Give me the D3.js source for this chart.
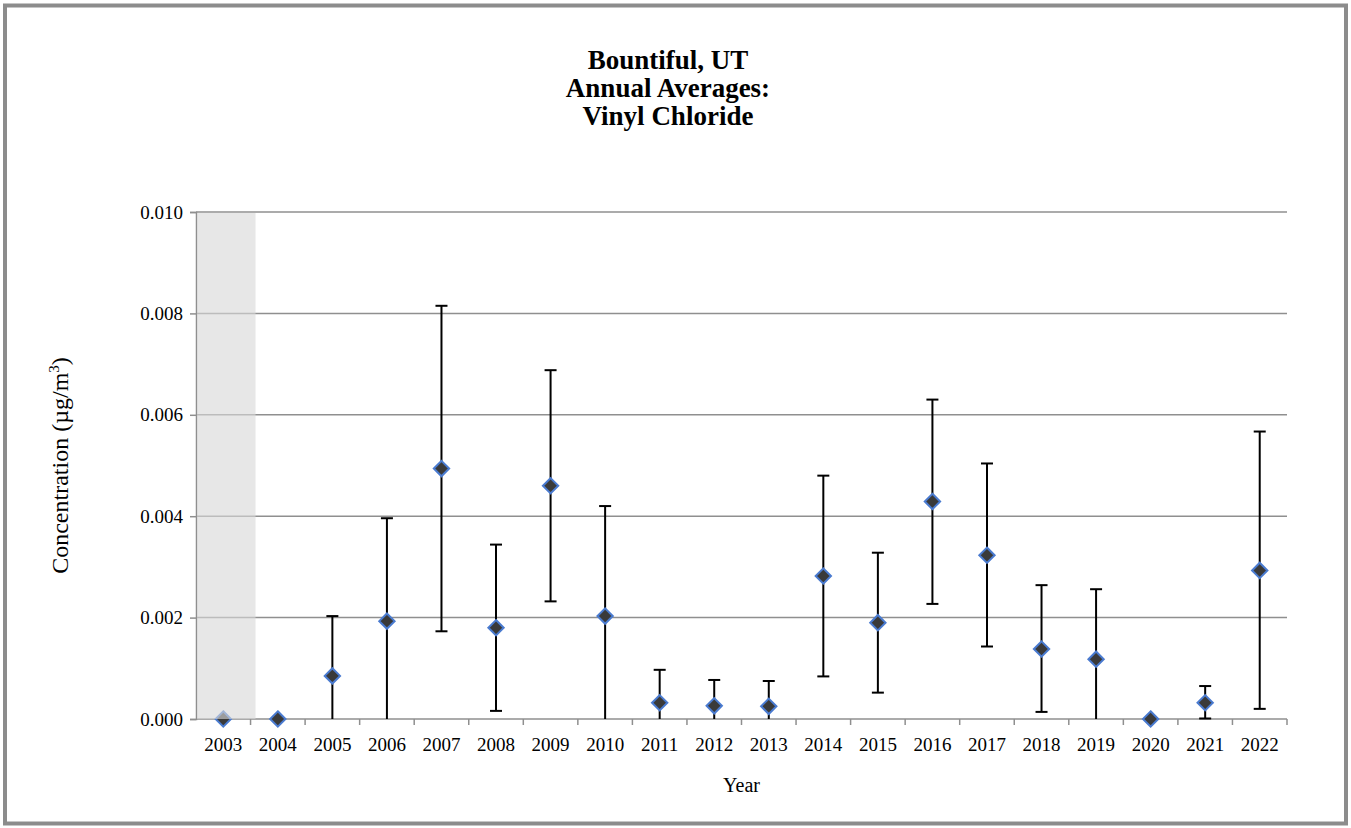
<!DOCTYPE html>
<html>
<head>
<meta charset="utf-8">
<script src="https://cdn.jsdelivr.net/npm/d3@7"></script>
<style>
  body { margin: 0; background: #fff; }
  svg text { font-family: "Liberation Serif", "Times New Roman", serif; fill: #000; }
</style>
</head>
<body>
<div id="chart"></div>
<script>
var years = ["2003","2004","2005","2006","2007","2008","2009","2010","2011","2012",
             "2013","2014","2015","2016","2017","2018","2019","2020","2021","2022"];
var means = [0, 0, 0.00085, 0.00193, 0.00494, 0.00180, 0.00460, 0.00203, 0.00032, 0.00026,
             0.00025, 0.00282, 0.00190, 0.00429, 0.00323, 0.00138, 0.00118, 0, 0.00032, 0.00293];
var upper = [null, null, 0.00203, 0.00396, 0.00815, 0.00344, 0.00688, 0.00420, 0.00097, 0.00077,
             0.00075, 0.00480, 0.00328, 0.00630, 0.00504, 0.00264, 0.00256, null, 0.00065, 0.00567];
var lower = [null, null, 0, 0, 0.00173, 0.00016, 0.00232, 0, 0, 0,
             0, 0.00084, 0.00052, 0.00227, 0.00143, 0.00014, 0, null, 0.00001, 0.00020];
var yTicks = [0, 0.002, 0.004, 0.006, 0.008, 0.010];
var shadedYears = ["2003"];
var titleLines = ["Bountiful, UT", "Annual Averages:", "Vinyl Chloride"];

var W = 1351, H = 828;
var margin = {l:196, r:64, t:212, b:109};

var svg = d3.select("#chart").append("svg").attr("width", W).attr("height", H);

// outer frame
svg.append("rect").attr("x", 5).attr("y", 5.5).attr("width", W-10).attr("height", H-10)
  .style("fill", "none").style("stroke", "#8c8c8c").style("stroke-width", 4);

var X = d3.scaleBand().domain(years).range([margin.l, W-margin.r]);
var Y = d3.scaleLinear().domain([0, 0.010]).range([H-margin.b, margin.t]);

// gridlines
svg.selectAll(".grid").data(yTicks.slice(1)).enter().append("line")
  .attr("class","grid")
  .attr("x1", margin.l).attr("x2", W-margin.r)
  .attr("y1", function(d){return Y(d)}).attr("y2", function(d){return Y(d)})
  .style("stroke","#8f8f8f").style("stroke-width",1.5);

// y axis
var yAxis = d3.axisLeft(Y).tickValues(yTicks).tickFormat(d3.format(".3f")).tickSize(6).tickPadding(7);
var ya = svg.append("g").attr("transform","translate("+margin.l+",0)").call(yAxis);
ya.select(".domain").style("stroke","#8f8f8f").style("stroke-width",1.5);
ya.selectAll(".tick line").style("stroke","#8f8f8f").style("stroke-width",1.5);
ya.selectAll("text").style("font-size","19px");

// x axis: ticks at category boundaries
var xa = svg.append("g").attr("transform","translate(0,"+Y(0)+")");
xa.append("line").attr("x1", margin.l).attr("x2", W-margin.r)
  .style("stroke","#8f8f8f").style("stroke-width",1.5);
var bounds = years.map(function(d){return X(d)}).concat([X(years[years.length-1]) + X.bandwidth()]);
xa.selectAll(".xt").data(bounds.slice(1)).enter().append("line")
  .attr("x1", function(d){return d}).attr("x2", function(d){return d})
  .attr("y1", 0).attr("y2", 6)
  .style("stroke","#8f8f8f").style("stroke-width",1.5);
xa.selectAll(".xl").data(years).enter().append("text")
  .attr("x", function(d){return X(d) + X.bandwidth()/2})
  .attr("y", 32)
  .attr("text-anchor","middle")
  .style("font-size","19px")
  .text(function(d){return d});

// error bars
var pts = years.map(function(y,i){ return {year:y, m:means[i], hi:upper[i], lo:lower[i]}; });
var cx = function(d){ return X(d.year) + X.bandwidth()/2; };
var capW = 6;
var eb = pts.filter(function(d){return d.hi != null});
svg.selectAll(".eb").data(eb).enter().append("line")
  .attr("x1", cx).attr("x2", cx)
  .attr("y1", function(d){return Y(d.hi)}).attr("y2", function(d){return Y(d.lo)})
  .style("stroke","#000").style("stroke-width",2);
svg.selectAll(".capHi").data(eb).enter().append("line")
  .attr("x1", function(d){return cx(d)-capW}).attr("x2", function(d){return cx(d)+capW})
  .attr("y1", function(d){return Y(d.hi)}).attr("y2", function(d){return Y(d.hi)})
  .style("stroke","#000").style("stroke-width",2);
svg.selectAll(".capLo").data(eb.filter(function(d){return d.lo > 0})).enter().append("line")
  .attr("x1", function(d){return cx(d)-capW}).attr("x2", function(d){return cx(d)+capW})
  .attr("y1", function(d){return Y(d.lo)}).attr("y2", function(d){return Y(d.lo)})
  .style("stroke","#000").style("stroke-width",2);

// markers
var diamond = d3.symbol().type(d3.symbolDiamond2).size(150);
svg.selectAll(".pt").data(pts).enter().append("path")
  .attr("class","pt")
  .attr("d", diamond)
  .attr("transform", function(d){return "translate("+cx(d)+","+Y(d.m)+")"})
  .style("fill","#3a3a3a").style("stroke","#4a7bd0").style("stroke-width",2);

// shaded band (drawn over the marker, semi-opaque)
svg.selectAll(".band").data(shadedYears).enter().append("rect")
  .attr("x", function(d){return X(d)+1}).attr("width", X.bandwidth()+4)
  .attr("y", Y(0.010)+1).attr("height", Y(0) - Y(0.010) - 1)
  .style("fill","#d8d8d8").style("opacity",0.62);

// titles
svg.selectAll(".title").data(titleLines).enter().append("text")
  .attr("x", 668).attr("y", function(d,i){return 69 + i*28})
  .attr("text-anchor","middle")
  .style("font-size","27px").style("font-weight","bold")
  .text(function(d){return d});

svg.append("text").attr("x", (margin.l + W - margin.r)/2).attr("y", 792)
  .attr("text-anchor","middle").style("font-size","20px").text("Year");

var yt = svg.append("text")
  .attr("transform","translate(68,"+ (Y(0.005)) +") rotate(-90)")
  .attr("text-anchor","middle").style("font-size","24px");
yt.append("tspan").text("Concentration (µg/m");
yt.append("tspan").attr("dy",-9).style("font-size","15px").text("3");
yt.append("tspan").attr("dy",9).text(")");
</script>
</body>
</html>
